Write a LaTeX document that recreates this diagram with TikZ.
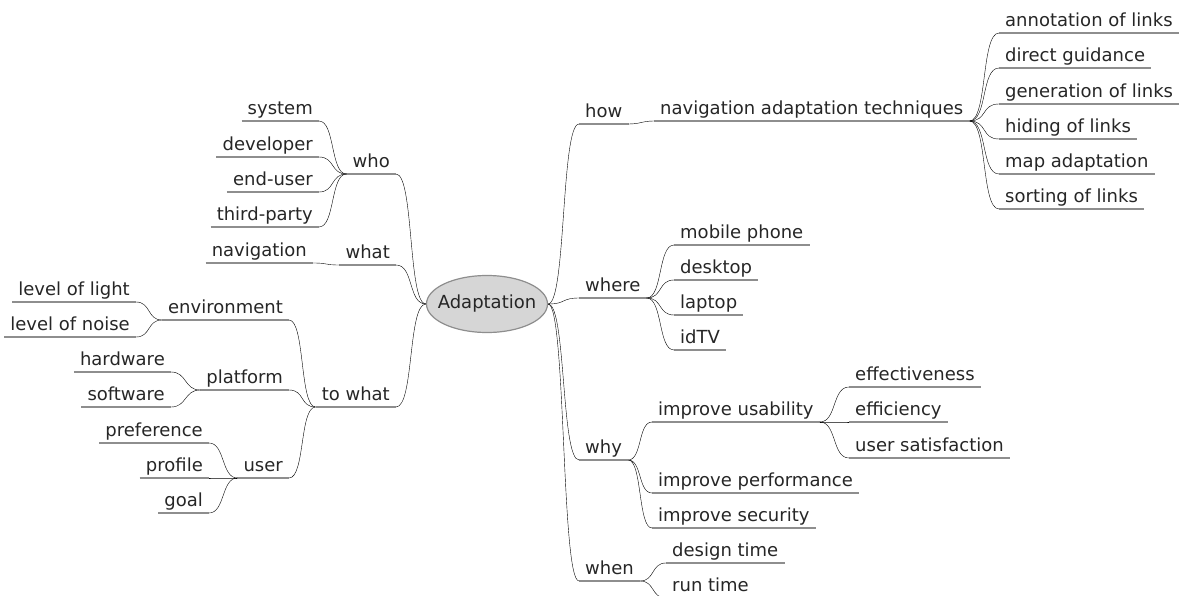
\documentclass[tikz,border=0pt]{standalone}
\usepackage{fontspec}
\setmainfont{DejaVu Sans}
\usetikzlibrary{shapes.geometric}
\definecolor{ink}{HTML}{262626}
\definecolor{wire}{HTML}{8E8E8E}
\definecolor{hub}{HTML}{D6D6D6}
\tikzset{
  lbl/.style={inner xsep=6pt, inner ysep=0pt, text height=14pt, text depth=6pt,
    text=ink, font=\fontsize{18}{22}\selectfont},
  rt/.style={lbl, anchor=south west},
  lt/.style={lbl, anchor=south east},
  hubnode/.style={ellipse, draw=wire, fill=hub, line width=1.2pt, minimum width=121pt,
    minimum height=57pt, inner sep=0pt, text height=13pt, text depth=4pt,
    text=ink, font=\fontsize{18}{22}\selectfont},
  wireline/.style={draw=wire, line width=1.2pt},
  rlink/.style={wireline, to path={.. controls +(#1,0) and +(-#1,0) .. (\tikztotarget)}},
  rlink/.default=16,
  llink/.style={wireline, to path={.. controls +(-#1,0) and +(#1,0) .. (\tikztotarget)}},
  llink/.default=16,
}
\begin{document}
\begin{tikzpicture}[x=1pt, y=-1pt]
\path[use as bounding box] (0,0) rectangle (1180,596);
\clip (0,0) rectangle (1180,596);

% central topic (zero-width text box so the ellipse keeps its set size)
\node[hubnode] (root) at (487,304) {\makebox[0pt]{Adaptation}};

% right-hand branches
\node[rt] (how) at (579,124) {how};
\node[rt] (nat) at (654,121) {navigation adaptation techniques};
\node[rt] (ann) at (999,33) {annotation of links};
\node[rt] (dir) at (999,68) {direct guidance};
\node[rt] (gen) at (999,104) {generation of links};
\node[rt] (hid) at (999,139) {hiding of links};
\node[rt] (mapa) at (999,174) {map adaptation};
\node[rt] (srt) at (999,209) {sorting of links};

\node[rt] (where) at (579,298) {where};
\node[rt] (mob) at (674,245) {mobile phone};
\node[rt] (dsk) at (674,280) {desktop};
\node[rt] (lap) at (674,315) {laptop};
\node[rt] (itv) at (674,350) {idTV};

\node[rt] (why) at (579,460) {why};
\node[rt] (usa) at (652,422) {improve usability};
\node[rt] (eff) at (849,387) {effectiveness};
\node[rt] (effi) at (849,422) {efficiency};
\node[rt] (sat) at (849,458) {user satisfaction};
\node[rt] (perf) at (652,493) {improve performance};
\node[rt] (sec) at (652,528) {improve security};

\node[rt] (when) at (579,581) {when};
\node[rt] (des) at (666,563) {design time};
\node[rt] (run) at (666,598) {run time};

% left-hand branches
\node[lt] (who) at (396,174) {who};
\node[lt] (sys) at (319,121) {system};
\node[lt] (dev) at (319,157) {developer};
\node[lt] (eusr) at (319,192) {end-user};
\node[lt] (thp) at (319,227) {third-party};

\node[lt] (what) at (396,265) {what};
\node[lt] (nav) at (313,263) {navigation};

\node[lt] (towhat) at (396,407) {to what};
\node[lt] (env) at (289,320) {environment};
\node[lt] (light) at (136,302) {level of light};
\node[lt] (noise) at (136,337) {level of noise};
\node[lt] (plat) at (289,390) {platform};
\node[lt] (hard) at (171,372) {hardware};
\node[lt] (soft) at (171,407) {software};
\node[lt] (user) at (289,478) {user};
\node[lt] (pref) at (209,443) {preference};
\node[lt] (prof) at (209,478) {profile};
\node[lt] (goal) at (209,513) {goal};

% underline beneath every topic
\foreach \n in {how,nat,ann,dir,gen,hid,mapa,srt,where,mob,dsk,lap,itv,
  why,usa,eff,effi,sat,perf,sec,when,des,run,
  who,sys,dev,eusr,thp,what,nav,towhat,env,light,noise,plat,hard,soft,user,pref,prof,goal}
  \draw[wireline] (\n.south west) -- (\n.south east);

% right-hand connectors
\foreach \c in {how,where,why,when}
  \draw (root.east) to[rlink=18] (\c.south west);
\draw (how.south east) to[rlink=12] (nat.south west);
\foreach \c in {ann,dir,gen,hid,mapa,srt}
  \draw (nat.south east) to[rlink=18] (\c.south west);
\foreach \c in {mob,dsk,lap,itv}
  \draw (where.south east) to[rlink=16] (\c.south west);
\foreach \c in {usa,perf,sec}
  \draw (why.south east) to[rlink=14] (\c.south west);
\foreach \c in {eff,effi,sat}
  \draw (usa.south east) to[rlink=17] (\c.south west);
\foreach \c in {des,run}
  \draw (when.south east) to[rlink=15] (\c.south west);

% left-hand connectors
\foreach \c in {who,what,towhat}
  \draw (root.west) to[llink=18] (\c.south east);
\foreach \c in {sys,dev,eusr,thp}
  \draw (who.south west) to[llink=16] (\c.south east);
\draw (what.south west) to[llink=16] (nav.south east);
\foreach \c in {env,plat,user}
  \draw (towhat.south west) to[llink=16] (\c.south east);
\foreach \c in {light,noise}
  \draw (env.south west) to[llink=15] (\c.south east);
\foreach \c in {hard,soft}
  \draw (plat.south west) to[llink=16] (\c.south east);
\foreach \c in {pref,prof,goal}
  \draw (user.south west) to[llink=16] (\c.south east);
\end{tikzpicture}
\end{document}
